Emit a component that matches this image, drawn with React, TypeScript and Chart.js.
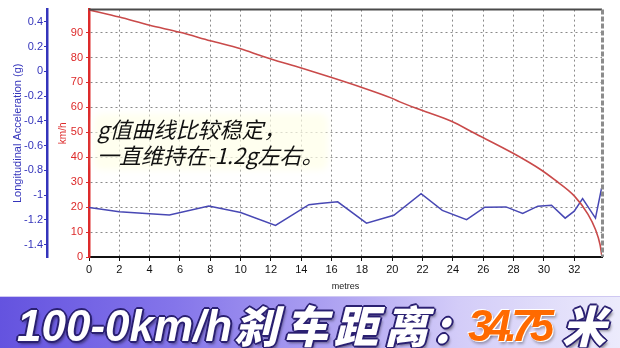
import React, { useEffect, useRef } from "react";
import { Chart, registerables } from "chart.js";

Chart.register(...registerables);

// Speed curve (km/h vs metres)
const speedMetres = [0, 2, 4, 6, 8, 10, 11.3, 12, 14, 16, 18, 20, 20.5, 21.9, 23.9, 25.3, 28, 29.8, 30.7, 32, 32.9, 33.4, 33.7, 33.83];
const speedKmh = [99.1, 96.2, 92.9, 90.1, 86.7, 83.5, 80.8, 79.4, 75.8, 72, 68, 63.6, 62.2, 58.9, 54.4, 50, 41.5, 35, 31, 24.5, 17.2, 11, 5, 0];

// Longitudinal acceleration (g vs metres)
const accelMetres = [0, 2, 4, 5.3, 7.9, 10, 12.3, 14.5, 15.2, 16.4, 18.3, 20.1, 21.9, 23.3, 24.9, 26.1, 27.5, 28.6, 29.6, 30.5, 31.4, 32, 32.55, 33.4, 33.8];
const accelG = [-1.10, -1.135, -1.15, -1.16, -1.087, -1.14, -1.244, -1.077, -1.067, -1.054, -1.226, -1.163, -0.988, -1.123, -1.198, -1.097, -1.095, -1.147, -1.089, -1.081, -1.186, -1.129, -1.028, -1.186, -0.944];

const xTicks = [0, 2, 4, 6, 8, 10, 12, 14, 16, 18, 20, 22, 24, 26, 28, 30, 32];
const speedTicks = [0, 10, 20, 30, 40, 50, 60, 70, 80, 90];
const gTicks = [-1.4, -1.2, -1, -0.8, -0.6, -0.4, -0.2, 0, 0.2, 0.4];

const X_MAX = 33.83;
const SPEED_MAX = 99.2;
const G_MIN = -1.5;
const G_MAX = 0.5;

const overlayLines = ["g值曲线比较稳定，", "一直维持在-1.2g左右。"];

const FONT = "'Liberation Sans', Arial, sans-serif";
const RED = "#dd2a2a";
const BLUE = "#3434bb";

const framePlugin = {
  id: "frame",
  afterDraw(chart: any) {
    const { ctx, chartArea } = chart;
    ctx.save();
    ctx.strokeStyle = "#4a4a4a";
    ctx.lineWidth = 2;
    ctx.beginPath();
    ctx.moveTo(chartArea.left, chartArea.top);
    ctx.lineTo(chartArea.right, chartArea.top);
    ctx.stroke();
    ctx.strokeStyle = "#8c8c8c";
    ctx.lineWidth = 3;
    ctx.setLineDash([5, 2]);
    ctx.beginPath();
    ctx.moveTo(chartArea.right + 0.5, chartArea.top);
    ctx.lineTo(chartArea.right + 0.5, chartArea.bottom);
    ctx.stroke();
    ctx.restore();
  },
};

export default function App() {
  const ref = useRef<HTMLCanvasElement | null>(null);

  useEffect(() => {
    if (!ref.current) return;
    const chart = new Chart(ref.current, {
      type: "line",
      data: {
        datasets: [
          {
            label: "km/h",
            data: speedMetres.map((m, i) => ({ x: m, y: speedKmh[i] })),
            yAxisID: "y",
            borderColor: "#c94a4a",
            borderWidth: 1.6,
            pointRadius: 0,
            cubicInterpolationMode: "monotone",
          },
          {
            label: "Longitudinal Acceleration (g)",
            data: accelMetres.map((m, i) => ({ x: m, y: accelG[i] })),
            yAxisID: "g",
            borderColor: "#4848b4",
            borderWidth: 1.5,
            pointRadius: 0,
            tension: 0,
          },
        ],
      },
      options: {
        animation: false,
        responsive: false,
        maintainAspectRatio: false,
        layout: { padding: { left: 0, right: 18, top: 4, bottom: 0 } },
        plugins: {
          legend: { display: false },
          tooltip: { enabled: false },
        },
        font: { family: FONT },
        scales: {
          x: {
            type: "linear",
            position: "bottom",
            min: 0,
            max: X_MAX,
            afterBuildTicks: (s: any) => {
              s.ticks = xTicks.map((v) => ({ value: v }));
            },
            afterFit: (s: any) => {
              s.height = 39;
            },
            grid: {
              color: (c: any) => (c.tick && c.tick.value === 0 ? "rgba(0,0,0,0)" : "#8a8a8a"),
              lineWidth: 1,
              tickLength: 4,
              tickColor: "#111",
              tickBorderDash: [],
            },
            border: { display: true, color: "#111", width: 2, dash: [2, 3] },
            ticks: {
              color: "#111",
              font: { family: FONT, size: 11 },
              padding: 2,
              maxRotation: 0,
              autoSkip: false,
            },
            title: {
              display: true,
              text: "metres",
              color: "#222",
              font: { family: FONT, size: 9 },
              padding: { top: 0, bottom: 4 },
            },
          },
          y: {
            type: "linear",
            position: "left",
            weight: 0,
            min: 0,
            max: SPEED_MAX,
            afterBuildTicks: (s: any) => {
              s.ticks = speedTicks.map((v) => ({ value: v }));
            },
            afterFit: (s: any) => {
              s.width = 42;
            },
            grid: {
              color: (c: any) => (c.tick && c.tick.value === 0 ? "rgba(0,0,0,0)" : "#8a8a8a"),
              lineWidth: 1,
              tickLength: 3,
              tickColor: RED,
              tickBorderDash: [],
            },
            border: { display: true, color: RED, width: 2.5, dash: [2, 3] },
            ticks: {
              color: RED,
              font: { family: FONT, size: 11 },
              padding: 3,
            },
            title: {
              display: true,
              text: "km/h",
              color: RED,
              font: { family: FONT, size: 10 },
              padding: { top: 10, bottom: 0 },
            },
          },
          g: {
            type: "linear",
            position: "left",
            weight: 1,
            min: G_MIN,
            max: G_MAX,
            afterBuildTicks: (s: any) => {
              s.ticks = gTicks.map((v) => ({ value: v }));
            },
            afterFit: (s: any) => {
              s.width = 47;
            },
            grid: {
              drawOnChartArea: false,
              tickLength: 3,
              tickColor: BLUE,
            },
            border: { display: true, color: BLUE, width: 2.5 },
            ticks: {
              color: BLUE,
              font: { family: FONT, size: 11 },
              padding: 1,
              callback: (v: any) => String(Math.round(Number(v) * 10) / 10),
            },
            title: {
              display: true,
              text: "Longitudinal Acceleration (g)",
              color: BLUE,
              font: { family: FONT, size: 11 },
              padding: { top: 11, bottom: 0 },
            },
          },
        },
      } as any,
      plugins: [framePlugin],
    });
    return () => chart.destroy();
  }, []);

  const outline =
    "1px 1px 0 #2b2172, -1px -1px 0 #2b2172, 1px -1px 0 #2b2172, -1px 1px 0 #2b2172, 2px 0 0 #2b2172, -2px 0 0 #2b2172, 0 2px 0 #2b2172, 0 -2px 0 #2b2172, 2px 3px 3px rgba(0,0,0,0.45)";

  const bannerBase: React.CSSProperties = {
    position: "absolute",
    whiteSpace: "nowrap",
    fontStyle: "italic",
    fontWeight: 700,
    fontSize: 44,
    lineHeight: "44px",
  };

  return (
    <div
      style={{
        position: "fixed",
        left: 0,
        top: 0,
        width: 620,
        height: 348,
        background: "#ffffff",
        overflow: "hidden",
      }}
    >
      <canvas ref={ref} width={620} height={296} style={{ position: "absolute", left: 0, top: 0, width: 620, height: 296 }} />
      <div
        style={{
          position: "absolute",
          left: 94,
          top: 114,
          width: 234,
          height: 56,
          background: "rgba(255,255,232,0.7)",
          borderRadius: 8,
          filter: "blur(3px)",
        }}
      />
      <div
        style={{
          position: "absolute",
          left: 97,
          top: 115,
          fontFamily: "'Noto Sans CJK SC', sans-serif",
          fontStyle: "italic",
          fontSize: 22,
          lineHeight: "26px",
          color: "#111",
          whiteSpace: "nowrap",
        }}
      >
        {overlayLines.map((t) => (
          <div key={t}>{t}</div>
        ))}
      </div>
      <div
        style={{
          position: "absolute",
          left: 0,
          top: 296,
          width: 620,
          height: 52,
          borderTop: "1px solid #cfc8f2",
          boxSizing: "border-box",
          background: "linear-gradient(90deg, #6453df 0%, #8475ea 28%, #ab9ff1 52%, #d3ccf8 74%, #ecebfc 100%)",
        }}
      >
        <span style={{ ...bannerBase, left: 17, top: 7, fontFamily: FONT, color: "#fff", textShadow: outline }}>
          100-0km/h
        </span>
        <span
          style={{
            ...bannerBase,
            left: 234,
            top: 5,
            fontFamily: "'Noto Sans CJK SC', sans-serif",
            fontWeight: 900,
            color: "#fff",
            letterSpacing: 6,
            textShadow: outline,
          }}
        >
          刹车距离:
        </span>
        <span
          style={{
            ...bannerBase,
            left: 468,
            top: 7,
            fontFamily: FONT,
            color: "#ff6a00",
            letterSpacing: -6,
            textShadow: "1px 1px 0 #fff, -1px -1px 0 #fff, 2px 3px 3px rgba(0,0,0,0.3)",
          }}
        >
          34.75
        </span>
        <span
          style={{
            ...bannerBase,
            left: 562,
            top: 5,
            fontFamily: "'Noto Sans CJK SC', sans-serif",
            fontWeight: 900,
            color: "#fff",
            textShadow: outline,
          }}
        >
          米
        </span>
      </div>
    </div>
  );
}
